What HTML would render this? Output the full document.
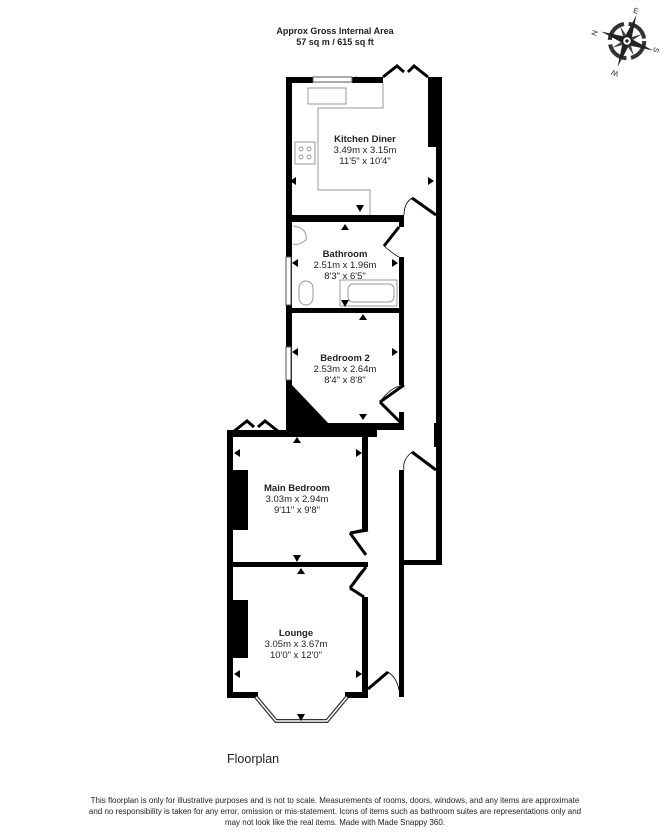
<!DOCTYPE html>
<html><head><meta charset="utf-8"><style>
html,body{margin:0;padding:0;background:#fff;}
svg{display:block;}
text{font-family:"Liberation Sans",Arial,sans-serif;fill:#222;}
</style></head><body>
<svg width="670" height="838" viewBox="0 0 670 838" xmlns="http://www.w3.org/2000/svg">
<rect width="670" height="838" fill="#fff"/>
<text x="335" y="34" font-size="9" font-weight="bold" text-anchor="middle">Approx Gross Internal Area</text>
<text x="335" y="45" font-size="9" font-weight="bold" text-anchor="middle">57 sq m / 615 sq ft</text>

<!-- compass -->
<g transform="translate(627,41) scale(1.15)">
<circle r="15" fill="none" stroke="#333" stroke-width="3.5" stroke-dasharray="20 4"/>
<polygon points="0,-24 3,-3 0,0 -3,-3" fill="#222" transform="rotate(20)"/>
<polygon points="0,-24 3,-3 0,0 -3,-3" fill="#222" transform="rotate(110)"/>
<polygon points="0,-24 3,-3 0,0 -3,-3" fill="#222" transform="rotate(200)"/>
<polygon points="0,-24 3,-3 0,0 -3,-3" fill="#222" transform="rotate(290)"/>
<polygon points="0,-14 2,-2 0,0 -2,-2" fill="#444" transform="rotate(65)"/>
<polygon points="0,-14 2,-2 0,0 -2,-2" fill="#444" transform="rotate(155)"/>
<polygon points="0,-14 2,-2 0,0 -2,-2" fill="#444" transform="rotate(245)"/>
<polygon points="0,-14 2,-2 0,0 -2,-2" fill="#444" transform="rotate(335)"/>
<circle r="4" fill="#fff" stroke="#222" stroke-width="1.5"/>
<circle r="1.5" fill="#222"/>
<text x="5" y="-25" font-size="6.5" transform="rotate(20 5 -25)">E</text>
<text x="24" y="5" font-size="6.5" transform="rotate(110 24 5)">S</text>
<text x="-7" y="27" font-size="6.5" transform="rotate(200 -7 27)">W</text>
<text x="-27" y="-4" font-size="6.5" transform="rotate(290 -27 -4)">N</text>
</g>

<g fill="#000">
<rect x="286" y="77" width="27" height="6"/>
<rect x="352" y="77" width="31" height="6"/>
<rect x="286" y="77" width="6" height="353"/>
<rect x="428" y="77" width="14" height="70"/>
<rect x="436" y="77" width="6" height="488"/>
<rect x="434" y="423" width="8" height="24"/>
<rect x="286" y="215" width="117" height="7"/>
<rect x="399" y="215" width="5" height="12"/>
<rect x="399" y="257" width="5" height="53"/>
<rect x="286" y="308" width="118" height="5"/>
<rect x="399" y="308" width="5" height="77"/>
<rect x="286" y="423" width="118" height="7"/>
<rect x="399" y="412" width="5" height="18"/>
<polygon points="292,385 330,425 292,425"/>
<rect x="227" y="430" width="150" height="7"/>
<rect x="227" y="430" width="6" height="267"/>
<rect x="362" y="430" width="6" height="100"/>
<rect x="227" y="562" width="141" height="5"/>
<rect x="233" y="470" width="15" height="60"/>
<rect x="362" y="597" width="6" height="100"/>
<rect x="233" y="600" width="15" height="58"/>
<rect x="227" y="692" width="31" height="6"/>
<rect x="345" y="692" width="23" height="6"/>
<rect x="399" y="470" width="5" height="227"/>
<rect x="399" y="560" width="43" height="5"/>
</g>
<g fill="#fff" stroke="#555" stroke-width="1">
<rect x="313" y="77" width="39" height="5"/>
<rect x="286" y="257" width="5" height="48"/>
<rect x="286" y="347" width="5" height="33"/>
</g>
<g stroke="#333" stroke-width="4" fill="none">
<polyline points="256,697 276,721 327,721 347,697"/>
</g>
<g stroke="#fff" stroke-width="1.5" fill="none">
<polyline points="256,697 276,721 327,721 347,697"/>
</g>
<g stroke="#000" stroke-width="3" fill="none">
<polyline points="383,77 397,66 404,72"/>
<polyline points="428,77 414,66 408,72"/>
<polyline points="233,432 247,421 254,427"/>
<polyline points="279,432 265,421 258,427"/>
<line x1="412" y1="198" x2="436" y2="215"/>
<line x1="399" y1="227" x2="384" y2="246"/>
<line x1="404" y1="385" x2="380" y2="402"/>
<line x1="380" y1="402" x2="400" y2="422"/>
<line x1="368" y1="530" x2="350" y2="533"/>
<line x1="350" y1="533" x2="366" y2="555"/>
<line x1="366" y1="567" x2="350" y2="588"/>
<line x1="350" y1="588" x2="364" y2="597"/>
<line x1="412" y1="452" x2="436" y2="470"/>
<line x1="368" y1="689" x2="388" y2="672"/>
</g>
<g stroke="#000" stroke-width="0.8" fill="none">
<path d="M412,198 Q404,203 404,215"/>
<path d="M384,246 Q396,256 399,257"/>
<path d="M404,385 Q390,387 380,402"/>
<path d="M350,533 Q362,528 368,530"/>
<path d="M350,588 Q360,570 366,567"/>
<path d="M412,452 Q402,460 404,470"/>
<path d="M388,672 Q397,678 399,690"/>
</g>
<g stroke="#999" stroke-width="1" fill="none">
<polyline points="383,83 383,108 318,108 318,190 370,190 370,215"/>
<rect x="308" y="88" width="38" height="16"/>
<rect x="295" y="142" width="20" height="22"/>
<circle cx="301" cy="149" r="2"/><circle cx="309" cy="149" r="2"/>
<circle cx="301" cy="157" r="2"/><circle cx="309" cy="157" r="2"/>
<path d="M293,226 Q308,228 306,240 Q298,246 293,244"/>
<rect x="299" y="281" width="14" height="24" rx="7"/>
<rect x="340" y="280" width="57" height="26"/>
<rect x="348" y="284" width="46" height="18" rx="5"/>
</g>
<g fill="#000">
<polygon points="356,82 360,75 352,75" transform="rotate(180 356 79)"/>
<polygon points="290,181 296,177 296,185"/>
<polygon points="434,181 428,177 428,185"/>
<polygon points="360,212 356,205 364,205"/>
<polygon points="345,224 341,230 349,230"/>
<polygon points="292,263 298,259 298,267"/>
<polygon points="398,263 392,259 392,267"/>
<polygon points="345,307 341,300 349,300"/>
<polygon points="363,314 359,320 367,320"/>
<polygon points="292,352 298,348 298,356"/>
<polygon points="398,352 392,348 392,356"/>
<polygon points="363,420 359,414 367,414"/>
<polygon points="297,437 293,443 301,443"/>
<polygon points="234,453 240,449 240,457"/>
<polygon points="362,453 356,449 356,457"/>
<polygon points="297,562 293,555 301,555"/>
<polygon points="301,568 297,574 305,574"/>
<polygon points="234,674 240,670 240,678"/>
<polygon points="362,674 356,670 356,678"/>
<polygon points="301,721 297,714 305,714"/>
</g>

<g font-size="9.5" text-anchor="middle">
<text x="365" y="142" font-weight="bold">Kitchen Diner</text>
<text x="365" y="153">3.49m x 3.15m</text>
<text x="365" y="164">11'5" x 10'4"</text>
<text x="345" y="257" font-weight="bold">Bathroom</text>
<text x="345" y="268">2.51m x 1.96m</text>
<text x="345" y="279">8'3" x 6'5"</text>
<text x="345" y="361" font-weight="bold">Bedroom 2</text>
<text x="345" y="372">2.53m x 2.64m</text>
<text x="345" y="383">8'4" x 8'8"</text>
<text x="297" y="491" font-weight="bold">Main Bedroom</text>
<text x="297" y="502">3.03m x 2.94m</text>
<text x="297" y="513">9'11" x 9'8"</text>
<text x="296" y="636" font-weight="bold">Lounge</text>
<text x="296" y="647">3.05m x 3.67m</text>
<text x="296" y="658">10'0" x 12'0"</text>
</g>
<text x="227" y="763" font-size="12.5">Floorplan</text>
<g font-size="8" text-anchor="middle" fill="#333">
<text x="335" y="803">This floorplan is only for illustrative purposes and is not to scale. Measurements of rooms, doors, windows, and any items are approximate</text>
<text x="335" y="814">and no responsibility is taken for any error, omission or mis-statement. Icons of items such as bathroom suites are representations only and</text>
<text x="335" y="825">may not look like the real items. Made with Made Snappy 360.</text>
</g>
</svg>
</body></html>
